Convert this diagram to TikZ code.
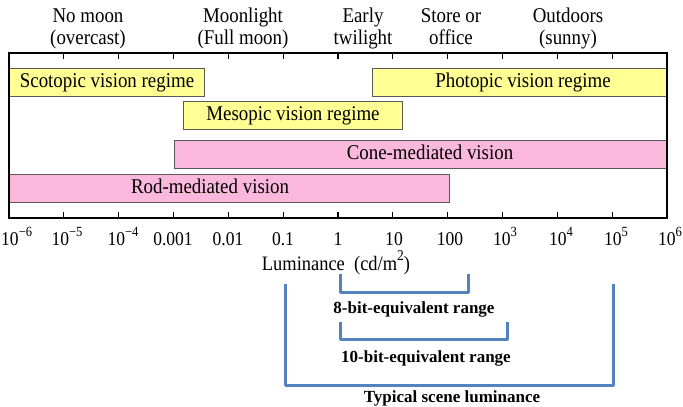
\documentclass[tikz,border=0pt]{standalone}
\usepackage{fontspec}
\setmainfont{Liberation Serif}
\newfontfamily\cond{Liberation Serif}[FakeStretch=0.9]
\definecolor{ybar}{HTML}{FFFF94}
\definecolor{pbar}{HTML}{F9B8DC}
\definecolor{bblue}{HTML}{5582BF}
\newcommand{\tpow}[1]{10\raisebox{0.45em}{\fontsize{14}{14}\selectfont #1}}
\begin{document}
\begin{tikzpicture}[x=1pt,y=-1pt,
  ylab/.style={fill=ybar,draw=black!65,line width=0.8pt},
  plab/.style={fill=pbar,draw=black!65,line width=0.8pt},
  bartext/.style={anchor=base,inner sep=0pt,font=\cond\fontsize{21}{23}\selectfont},
  toplab/.style={anchor=base,inner sep=0pt,font=\cond\fontsize{21}{23}\selectfont},
  ticklab/.style={anchor=base,inner sep=0pt,font=\cond\fontsize{19.5}{21}\selectfont},
  bracket/.style={draw=bblue,line width=3pt,line join=round},
  btext/.style={anchor=base,inner sep=0pt,font=\fontsize{17}{20}\selectfont\bfseries}]
\useasboundingbox (0,0) rectangle (683,407);
% top labels
\node[toplab] (l1a) at (88,22) {No moon};
\node[toplab] (l1b) at (88,44) {(overcast)};
\node[toplab] (l2a) at (243,22) {Moonlight};
\node[toplab] (l2b) at (243,44) {(Full moon)};
\node[toplab] (l3a) at (363,22) {Early};
\node[toplab] (l3b) at (363,44) {twilight};
\node[toplab] (l4a) at (451,22) {Store or};
\node[toplab] (l4b) at (451,44) {office};
\node[toplab] (l5a) at (568,22) {Outdoors};
\node[toplab] (l5b) at (568,44) {(sunny)};
% bars
\path[ylab] (9,68) rectangle (204,96);
\node[bartext] (scot) at (107,87) {Scotopic vision regime};
\path[ylab] (372,68) rectangle (667,96);
\node[bartext] (phot) at (523,87) {Photopic vision regime};
\path[ylab] (183,101) rectangle (402,129);
\node[bartext] (meso) at (293,120) {Mesopic vision regime};
\path[plab] (174,140) rectangle (667,168);
\node[bartext] (cone) at (430,159) {Cone-mediated vision};
\path[plab] (9,174) rectangle (449,202);
\node[bartext] (rod) at (210,193) {Rod-mediated vision};
% frame
\draw[line width=1.3pt] (9,53) rectangle (667,218);
\foreach \i in {1,...,11}{
  \draw[line width=1.1pt] ({9+\i*54.83},53) -- ++(0,6);
  \draw[line width=1.1pt] ({9+\i*54.83},218) -- ++(0,-6);
}
% tick labels
\node[ticklab,anchor=base west] (t0) at (1,245) {\tpow{−6}};
\node[ticklab] (t1) at (67,245) {\tpow{−5}};
\node[ticklab] (t2) at (123,245) {\tpow{−4}};
\node[ticklab] (t3) at (173,245) {0.001};
\node[ticklab] (t4) at (228,245) {0.01};
\node[ticklab] (t5) at (283,245) {0.1};
\node[ticklab] (t6) at (338,245) {1};
\node[ticklab] (t7) at (394,245) {10};
\node[ticklab] (t8) at (450,245) {100};
\node[ticklab] (t9) at (505,245) {\tpow{3}};
\node[ticklab] (t10) at (561,245) {\tpow{4}};
\node[ticklab] (t11) at (616,245) {\tpow{5}};
\node[ticklab] (t12) at (670,245) {\tpow{6}};
\node[anchor=base,inner sep=0pt,font=\cond\fontsize{20.5}{22}\selectfont] (lum) at (336,270) {Luminance\ \ (cd/m\raisebox{0.45em}{\fontsize{15}{15}\selectfont 2})};
% brackets
\coordinate (a1) at (340,274); \coordinate (a2) at (340,292);
\coordinate (a3) at (468,292); \coordinate (a4) at (468,274);
\draw[bracket] (a1) -- (a2) -- (a3) -- (a4);
\node[btext] (b8) at (414,313) {8-bit-equivalent range};
\coordinate (c1) at (340,322); \coordinate (c2) at (340,339);
\coordinate (c3) at (507,339); \coordinate (c4) at (507,322);
\draw[bracket] (c1) -- (c2) -- (c3) -- (c4);
\node[btext] (b10) at (426,362) {10-bit-equivalent range};
\coordinate (d1) at (285,284); \coordinate (d2) at (285,385);
\coordinate (d3) at (613,385); \coordinate (d4) at (613,284);
\draw[bracket] (d1) -- (d2) -- (d3) -- (d4);
\node[btext] (bt) at (452,402) {Typical scene luminance};
\end{tikzpicture}
\end{document}
